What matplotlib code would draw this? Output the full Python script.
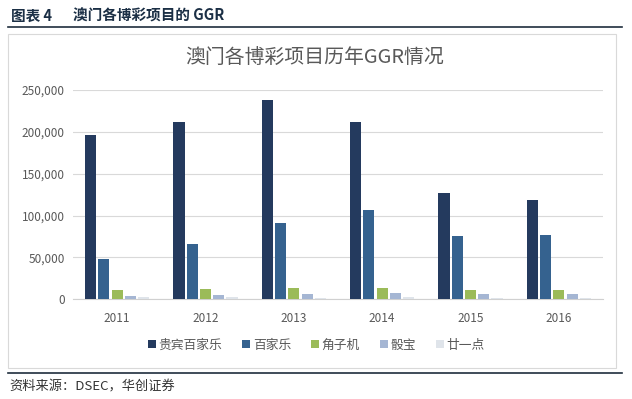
import matplotlib
matplotlib.use("Agg")
import matplotlib.pyplot as plt
import numpy as np
from matplotlib.patches import Rectangle, Patch
from matplotlib.lines import Line2D
from matplotlib.ticker import FuncFormatter

plt.rcParams['font.family'] = ['Noto Sans CJK SC', 'DejaVu Sans']

# data (GGR, million MOP)
years = ['2011', '2012', '2013', '2014', '2015', '2016']
series_names = ['贵宾百家乐', '百家乐', '角子机', '骰宝', '廿一点']
vip_baccarat = [196500, 211200, 238400, 212000, 127500, 118800]
baccarat = [48200, 66100, 91600, 106800, 76100, 77300]
slots = [11100, 12300, 13900, 13900, 11100, 11100]
sicbo = [4000, 5100, 6700, 7900, 6300, 6300]
blackjack = [2500, 2500, 2000, 2400, 1500, 1500]
colors = ['#243a5e', '#35628f', '#9bbb59', '#a5b6d3', '#dfe4ea']

W, H = 632, 399
fig = plt.figure(figsize=(W / 100, H / 100), dpi=100)

def fx(px):
    return px / W

def fy(py):
    return 1 - py / H

# header + rules
fig.text(fx(11), fy(16), '图表 4', fontsize=10.5,
         fontweight='bold', color='#1b2f45', va='center', ha='left')
fig.text(fx(73), fy(16), '澳门各博彩项目的 GGR', fontsize=10.5,
         fontweight='bold', color='#1b2f45', va='center', ha='left')
fig.add_artist(Line2D([fx(8), fx(622)], [fy(27), fy(27)], color='#1f2d3d',
                      lw=1.2, transform=fig.transFigure))
fig.add_artist(Line2D([fx(8), fx(622)], [fy(373), fy(373)], color='#1f2d3d',
                      lw=1.2, transform=fig.transFigure))
fig.add_artist(Rectangle((fx(8), fy(367.5)), fx(608), (367.5 - 34) / H,
                         fill=False, edgecolor='#d9d9d9', lw=0.8,
                         transform=fig.transFigure))
fig.text(fx(9), fy(387), '资料来源：DSEC，华创证券', fontsize=9.5,
         color='#333333', va='center', ha='left', style='italic')

fig.text(fx(315), fy(57), '澳门各博彩项目历年GGR情况', fontsize=14.3,
         color='#595959', va='center', ha='center', fontweight='light')

ax = fig.add_axes([fx(73), fy(299.3), fx(603 - 73), (299.3 - 90) / H])

all_series = [vip_baccarat, baccarat, slots, sicbo, blackjack]
x = np.arange(len(years))
pitch = 0.15
width = 0.125
for i, vals in enumerate(all_series):
    ax.bar(x + (i - 2) * pitch, vals, width=width, color=colors[i],
           label=series_names[i], zorder=3)

ax.set_xlim(-0.5, len(years) - 0.5)
ax.set_ylim(0, 250000)
ax.set_yticks(np.arange(0, 250001, 50000))
ax.yaxis.set_major_formatter(FuncFormatter(lambda v, p: f'{int(v):,}'))
ax.set_xticks(x)
ax.set_xticklabels(years)
ax.grid(axis='y', color='#d9d9d9', lw=0.8, zorder=0)
for s in ['top', 'right', 'left']:
    ax.spines[s].set_visible(False)
ax.spines['bottom'].set_color('#d0d0d0')
ax.tick_params(axis='both', length=0, labelsize=8.5, colors='#595959', pad=6)
ax.tick_params(axis='x', pad=9)

handles = [Patch(facecolor=c, edgecolor='none') for c in colors]
fig.legend(handles, series_names, loc='center', bbox_to_anchor=(fx(316.5), fy(345)),
           ncol=5, frameon=False, fontsize=9.2, handlelength=0.6, handleheight=0.6,
           handletextpad=0.2, columnspacing=1.6, labelcolor='#595959')

fig.savefig('out.png', dpi=100)
